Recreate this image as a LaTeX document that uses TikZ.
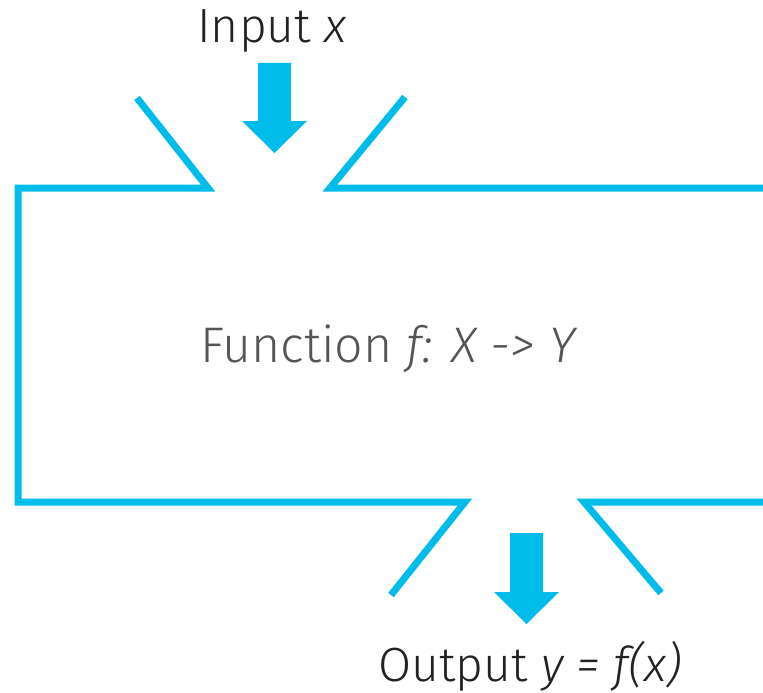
\documentclass[tikz,border=0pt]{standalone}
\usepackage{fontspec}
\setmainfont{Fira Sans}[UprightFont=* Light, ItalicFont=* Light Italic]
\definecolor{ciscoblue}{HTML}{00BCEB}
\definecolor{txtdark}{HTML}{222222}
\definecolor{txtgray}{HTML}{555555}
\begin{document}
\begin{tikzpicture}[x=1pt,y=-1pt,
  wall/.style={draw=ciscoblue,line width=7pt,line join=miter,line cap=butt},
  bigarrow/.style={fill=ciscoblue,draw=none},
  lbl/.style={inner sep=0pt,anchor=base,font=\fontsize{48}{58}\selectfont,text=txtdark},
  midlbl/.style={inner sep=0pt,anchor=base,font=\fontsize{50}{60}\selectfont,text=txtgray}]
\useasboundingbox (0,0) rectangle (763,693);
% walls
\draw[wall] (137,98) -- (208,188) -- (18,188) -- (18,502) -- (465,502) -- (391,595);
\draw[wall] (405,97) -- (330,188) -- (763,188);
\draw[wall] (763,502) -- (584,502) -- (661,593);
% arrows
\fill[bigarrow] (258,63) -- (291,63) -- (291,121) -- (307,121) -- (274.5,153) -- (242,121) -- (258,121) -- cycle;
\fill[bigarrow] (510,533) -- (543,533) -- (543,592) -- (559,592) -- (526.5,624) -- (494,592) -- (510,592) -- cycle;
% labels
\node[lbl] (in) at (272,43) {Input \textit{x}};
\node[midlbl] (fn) at (389,362) {Function \textit{f: X -> Y}};
\node[lbl] (out) at (530,681) {Output \textit{y = f(x)}};
\end{tikzpicture}
\end{document}
